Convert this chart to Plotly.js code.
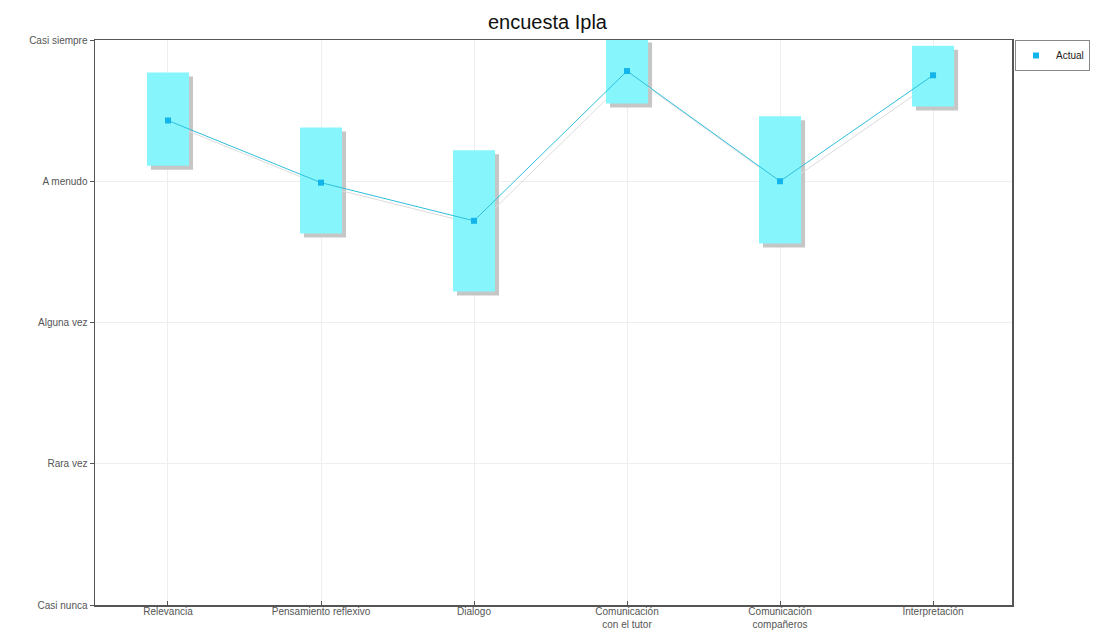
<!DOCTYPE html>
<html>
<head>
<meta charset="utf-8">
<script src="https://cdn.plot.ly/plotly-3.0.1.min.js"></script>
<style>html,body{margin:0;padding:0;background:#fff;}#chart{width:1095px;height:631px;}</style>
</head>
<body>
<div id="chart"></div>
<script>
// ---- data ----
const categories = ['Relevancia', 'Pensamiento reflexivo', 'Dialogo', 'Comunicación<br>con el tutor', 'Comunicación<br>compañeros', 'Interpretación'];
const actual = [4.43, 3.99, 3.72, 4.78, 4.00, 4.75];
const upper = [4.77, 4.38, 4.22, 5.01, 4.46, 4.96];
const lower = [4.11, 3.63, 3.22, 4.55, 3.56, 4.53];
const levelValues = [1, 2, 3, 4, 5];
const levelLabels = ['Casi nunca', 'Rara vez', 'Alguna vez', 'A menudo', 'Casi siempre'];
const seriesName = 'Actual';

// ---- geometry ----
const W = 1095, H = 631;
const margin = {l: 95, r: 83, t: 40, b: 26, autoexpand: false};
const plotW = W - margin.l - margin.r, plotH = H - margin.t - margin.b;
const xRange = [-0.477, 5.516];
const yRange = [1, 5];
const shadowPx = 4;
const dx = shadowPx * (xRange[1] - xRange[0]) / plotW;
const dy = shadowPx * (yRange[1] - yRange[0]) / plotH;
const boxW = 0.275;
const span = upper.map((u, i) => u - lower[i]);

const boxColor = '#86f6fc';
const shadowColor = '#c6c6c6';
const lineColor = '#2fbfdc';
const markerColor = '#12b4ea';

const traces = [
  // anchor trace for the visible base axes (invisible)
  {type: 'scatter', mode: 'markers', x: categories, y: actual, marker: {opacity: 0, size: 1},
   showlegend: false, hoverinfo: 'skip'},
  // shadows (x2/y2, shifted)
  {type: 'bar', x: categories, y: span, base: lower, width: boxW, xaxis: 'x2', yaxis: 'y2',
   marker: {color: shadowColor, line: {width: 0}}, showlegend: false, hoverinfo: 'skip'},
  {type: 'scatter', mode: 'lines', x: categories, y: actual, xaxis: 'x2', yaxis: 'y2',
   line: {color: '#dcdcdc', width: 1}, showlegend: false, hoverinfo: 'skip'},
  // main (x3/y3)
  {type: 'bar', x: categories, y: span, base: lower, width: boxW, xaxis: 'x3', yaxis: 'y3',
   marker: {color: boxColor, line: {width: 0}}, showlegend: false, hoverinfo: 'skip'},
  {type: 'scatter', mode: 'lines', x: categories, y: actual, xaxis: 'x3', yaxis: 'y3',
   line: {color: lineColor, width: 1}, showlegend: false, hoverinfo: 'skip'},
  {type: 'scatter', mode: 'markers', name: seriesName, x: categories, y: actual, xaxis: 'x3', yaxis: 'y3',
   marker: {color: markerColor, symbol: 'square', size: 6}, showlegend: true, hoverinfo: 'skip'}
];

const hiddenX = {type: 'category', categoryarray: categories, overlaying: 'x', visible: false, fixedrange: true};
const hiddenY = {overlaying: 'y', visible: false, fixedrange: true};

const layout = {
  width: W, height: H,
  margin: margin,
  paper_bgcolor: '#ffffff', plot_bgcolor: '#ffffff',
  font: {family: 'Liberation Sans, Arial, sans-serif', size: 10, color: '#555'},
  title: {text: 'encuesta Ipla', x: 0.5, xanchor: 'center', y: 0.965, yanchor: 'middle', automargin: false,
          font: {family: 'Liberation Sans, Arial, sans-serif', size: 20, color: '#111'}},
  showlegend: true,
  legend: {x: (1090 - margin.l) / plotW, xanchor: 'right', y: 1, yanchor: 'top', bordercolor: '#888', borderwidth: 1,
           bgcolor: '#fff', font: {size: 10, color: '#222'}, itemwidth: 30},
  barmode: 'overlay',
  xaxis: {type: 'category', categoryarray: categories, range: xRange, showgrid: true, gridcolor: '#eeeeee',
          showline: true, linecolor: '#555', linewidth: 1.5, mirror: true,
          ticks: 'inside', ticklen: 4, tickcolor: '#555', zeroline: false, fixedrange: true,
          ticklabelstandoff: -4,
          tickfont: {size: 10, color: '#555'}},
  yaxis: {range: yRange, tickvals: levelValues, ticktext: levelLabels, showgrid: true, gridcolor: '#eeeeee',
          showline: true, linecolor: '#555', linewidth: 1.5, mirror: true,
          ticks: 'outside', ticklen: 4, tickcolor: '#555', zeroline: false, fixedrange: true,
          tickfont: {size: 10, color: '#555'}},
  xaxis2: Object.assign({}, hiddenX, {range: [xRange[0] - dx, xRange[1] - dx]}),
  yaxis2: Object.assign({}, hiddenY, {range: [yRange[0] + dy, yRange[1] + dy]}),
  xaxis3: Object.assign({}, hiddenX, {range: xRange}),
  yaxis3: Object.assign({}, hiddenY, {range: yRange})
};

Plotly.newPlot('chart', traces, layout, {staticPlot: true, displayModeBar: false});
</script>
</body>
</html>
